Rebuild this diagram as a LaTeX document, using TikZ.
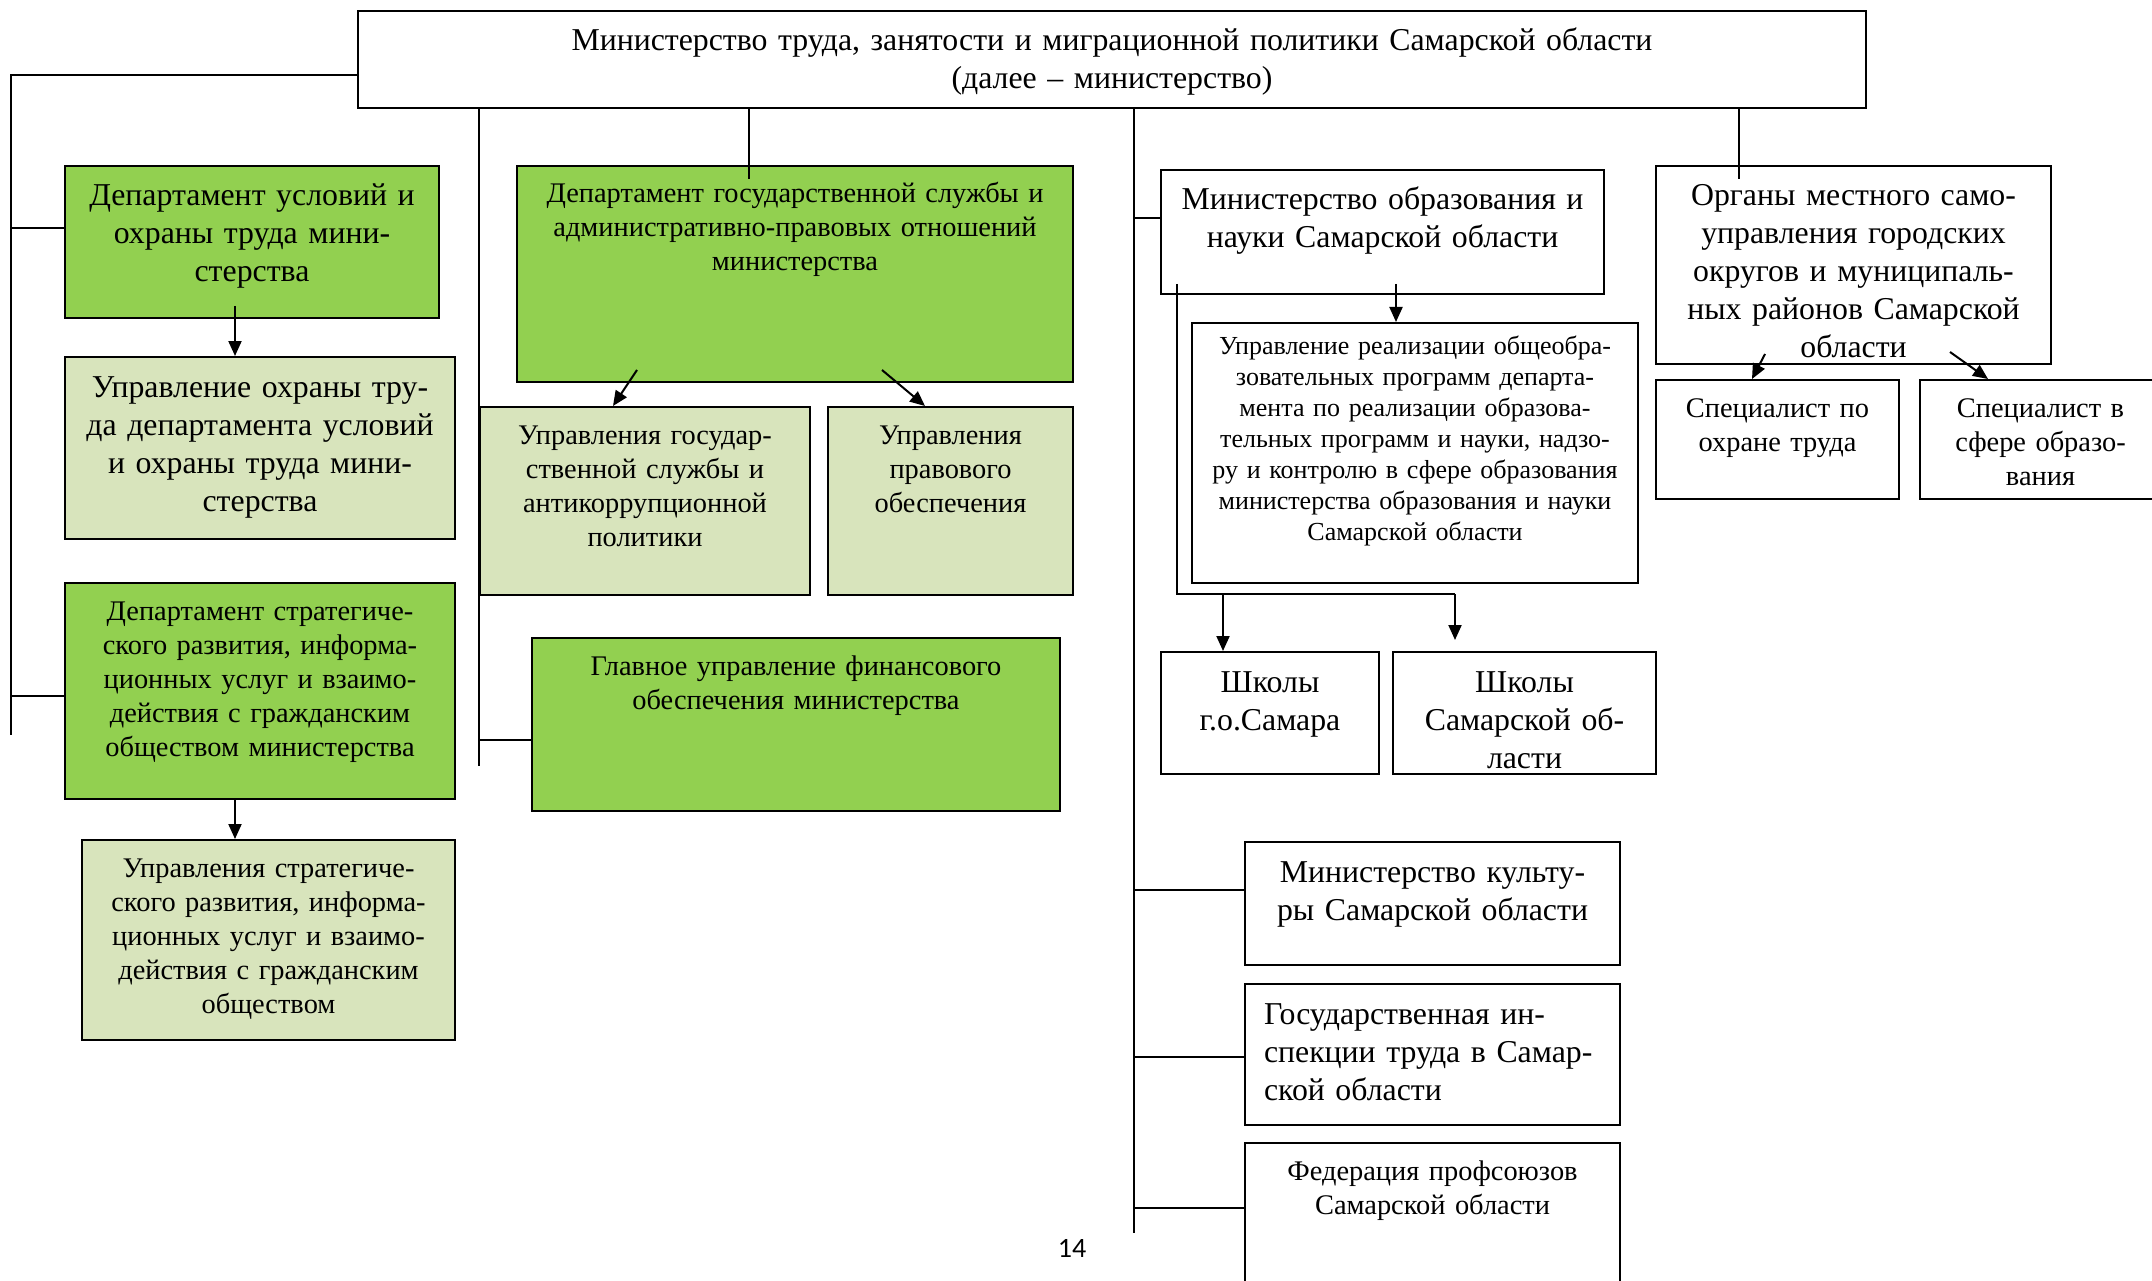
\documentclass[tikz,border=0pt]{standalone}
\usepackage{fontspec}
\setmainfont{Liberation Serif}
\newfontfamily\pagefont{Carlito}
\usepackage{tikz}
\usetikzlibrary{arrows.meta}
\definecolor{deptgreen}{HTML}{92D050}
\definecolor{uprgreen}{HTML}{D8E4BC}
\newcommand{\bigf}{\fontsize{31.8}{38}\selectfont}
\newcommand{\medf}{\fontsize{28.4}{34}\selectfont}
\newcommand{\smlf}{\fontsize{26}{31}\selectfont}

\begin{document}
\begin{tikzpicture}[x=1pt, y=-1pt,
  box/.style={draw, line width=2pt, anchor=north west, inner sep=0pt, align=center},
  bigbox/.style={box, font=\bigf, text height=40pt},
  medbox/.style={box, font=\medf, text height=37pt},
  smlbox/.style={box, font=\smlf, text height=31pt},
  ln/.style={line width=1.6pt},
  arr/.style={line width=2pt, -{Triangle[length=15pt,width=13pt]}}]
\useasboundingbox (0,0) rectangle (2152,1281); %page size

\node[bigbox, fill=white, text width=1508pt, text depth=57pt] (ministry) at (357,10) {Министерство труда, занятости и миграционной политики Самарской области\\(далее – министерство)};

% left column
\node[bigbox, fill=deptgreen, text width=374pt, text depth=112pt] (depusl) at (64,165) {Департамент условий и\\охраны труда мини-\\стерства};
\node[bigbox, fill=uprgreen, text width=390pt, text depth=142pt] (uprohr) at (64,356) {Управление охраны тру-\\да департамента условий\\и охраны труда мини-\\стерства};
\node[medbox, fill=deptgreen, text width=390pt, text depth=179pt] (depstrat) at (64,582) {Департамент стратегиче-\\ского развития, информа-\\ционных услуг и взаимо-\\действия с гражданским\\обществом министерства};
\node[medbox, fill=uprgreen, text width=373pt, text depth=163pt] (uprstrat) at (81,839) {Управления стратегиче-\\ского развития, информа-\\ционных услуг и взаимо-\\действия с гражданским\\обществом};

% middle column
\node[medbox, fill=deptgreen, text width=556pt, text depth=179pt] (depgos) at (516,165) {Департамент государственной службы и\\административно-правовых отношений\\министерства};
\node[medbox, fill=uprgreen, text width=330pt, text depth=151pt] (uprgos) at (479,406) {Управления государ-\\ственной службы и\\антикоррупционной\\политики};
\node[medbox, fill=uprgreen, text width=245pt, text depth=151pt] (uprprav) at (827,406) {Управления\\правового\\обеспечения};
\node[medbox, fill=deptgreen, text width=528pt, text depth=136pt] (glfin) at (531,637) {Главное управление финансового\\обеспечения министерства};

% right part
\node[bigbox, fill=white, text width=443pt, text depth=84pt] (minobr) at (1160,169) {Министерство образования и\\науки Самарской области};
\node[smlbox, fill=white, text width=446pt, text depth=229pt] (uprobr) at (1191,322) {Управление реализации общеобра-\\зовательных программ департа-\\мента по реализации образова-\\тельных программ и науки, надзо-\\ру и контролю в сфере образования\\министерства образования и науки\\Самарской области};
\node[bigbox, fill=white, text width=218pt, text depth=82pt] (shkgor) at (1160,651) {Школы\\г.о.Самара};
\node[bigbox, fill=white, text width=263pt, text depth=82pt] (shkobl) at (1392,651) {Школы\\Самарской об-\\ласти};
\node[bigbox, fill=white, text width=395pt, text depth=158pt] (organy) at (1655,165) {Органы местного само-\\управления городских\\округов и муниципаль-\\ных районов Самарской\\области};
\node[medbox, fill=white, text width=243pt, text depth=82pt] (specohr) at (1655,379) {Специалист по\\охране труда};
\node[medbox, fill=white, text width=241pt, text depth=82pt] (specobr) at (1919,379) {Специалист в\\сфере образо-\\вания};
\node[bigbox, fill=white, text width=375pt, text depth=83pt] (minkult) at (1244,841) {Министерство культу-\\ры Самарской области};
\node[bigbox, fill=white, align=left, inner xsep=19pt, text width=337pt, text depth=101pt] (gosinsp) at (1244,983) {Государственная ин-\\спекции труда в Самар-\\ской области};
\node[medbox, fill=white, text width=375pt, text depth=163pt] (federac) at (1244,1142) {Федерация профсоюзов\\Самарской области};

\node[font=\pagefont\fontsize{28}{32}\selectfont] (pagenum) at (1072,1248) {14};

% connectors
\coordinate (busl) at (11,735);
\draw[ln] (ministry.west |- 0,75) -| (busl);
\draw[ln] (busl |- 0,228) -- (depusl.west |- 0,228);
\draw[ln] (busl |- 0,696) -- (depstrat.west |- 0,696);
\draw[arr] ([xshift=171pt,yshift=13pt]depusl.south west) -- ([xshift=171pt]uprohr.north west);
\draw[arr] ([xshift=171pt]depstrat.south west) -- ([xshift=154pt]uprstrat.north west);

\coordinate (busm) at (479,766);
\draw[ln] (ministry.south -| busm) -- (busm);
\draw[ln] (busm |- 0,740) -- (glfin.west |- 0,740);
\draw[ln] (ministry.south -| 749,0) -- ++(0,70);
\draw[arr] ([xshift=121pt,yshift=13pt]depgos.south west) -- ([xshift=134pt]uprgos.north west);
\draw[arr] ([xshift=366pt,yshift=13pt]depgos.south west) -- ([xshift=98pt]uprprav.north west);

\coordinate (busr) at (1134,1233);
\draw[ln] (ministry.south -| busr) -- (busr);
\draw[ln] (busr |- 0,218) -- (minobr.west |- 0,218);
\draw[ln] (busr |- 0,890) -- (minkult.west |- 0,890);
\draw[ln] (busr |- 0,1057) -- (gosinsp.west |- 0,1057);
\draw[ln] (busr |- 0,1208) -- (federac.west |- 0,1208);
\draw[arr] ([xshift=236pt,yshift=11pt]minobr.south west) -- ([xshift=205pt]uprobr.north west);

\coordinate (shkfork) at (1455,594);
\draw[ln] ([xshift=17pt,yshift=11pt]minobr.south west) |- (shkfork);
\draw[arr] (1223,594) -- ([xshift=63pt]shkgor.north west);
\draw[arr] (shkfork) -- ++(0,46);

\draw[ln] (ministry.south -| 1739,0) -- ++(0,70);
\draw[arr] ([xshift=110pt,yshift=11pt]organy.south west) -- ([xshift=97pt]specohr.north west);
\draw[arr] ([xshift=295pt,yshift=13pt]organy.south west) -- ([xshift=69pt]specobr.north west);
\end{tikzpicture}
\end{document}
